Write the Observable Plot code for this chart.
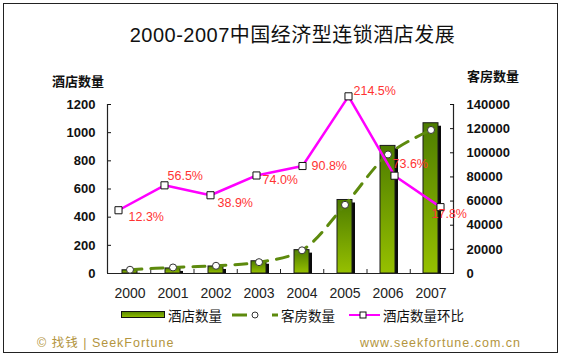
<!DOCTYPE html>
<html><head><meta charset="utf-8">
<script src="https://cdn.jsdelivr.net/npm/d3@7"></script>
<script src="https://cdn.jsdelivr.net/npm/@observablehq/plot@0.6"></script>
<style>
body{margin:0;background:#fff;}
#chart{position:relative;width:561px;height:356px;background:#fff;overflow:hidden;
  font-family:"Liberation Sans",Arial,"Noto Sans CJK SC",sans-serif;}
#chart svg{position:absolute;left:0;top:0;}
.t{position:absolute;white-space:nowrap;line-height:20px;height:20px;}
#border{position:absolute;left:3px;top:3px;width:555px;height:350px;border:1.5px solid #222;box-sizing:border-box;}
#title{left:0;width:585px;text-align:center;top:23px;font-size:20px;letter-spacing:0.5px;line-height:24px;height:24px;color:#111;}
.ax{font-family:"Noto Sans CJK SC",sans-serif;font-size:13px;font-weight:bold;color:#111;}
.lg{font-family:"Noto Sans CJK SC",sans-serif;font-size:13.5px;color:#111;top:305px;}
.ft{font-size:12.5px;color:#b39540;letter-spacing:1px;top:333px;}
#swatch{position:absolute;left:121px;top:311px;width:44px;height:7px;box-sizing:border-box;border:1px solid #111;
  background:linear-gradient(#5a8a00,#8fba00);}
</style></head>
<body><div id="chart"></div>
<script>
const years = ["2000","2001","2002","2003","2004","2005","2006","2007"];
const hotels = [23, 36, 50, 87, 166, 522, 906, 1067];
const rooms = [3100, 5000, 6400, 9400, 19200, 56900, 98600, 118900];
const hotelGrowth = [12.3, 56.5, 38.9, 74.0, 90.8, 214.5, 73.6, 17.8];
const leftTicks = [0, 200, 400, 600, 800, 1000, 1200];
const rightTicks = [0, 20000, 40000, 60000, 80000, 100000, 120000, 140000];
const titleText = "2000-2007中国经济型连锁酒店发展";
const leftTitle = "酒店数量";
const rightTitle = "客房数量";
const legendHotels = "酒店数量";
const legendRooms = "客房数量";
const legendGrowth = "酒店数量环比";
const footLeft = "© 找钱 | SeekFortune";
const footRight = "www.seekfortune.com.cn";

const rows = years.map((year, i) => ({year, hotels: hotels[i], rooms: rooms[i], growth: hotelGrowth[i]}));

// layout
const W = 561, H = 356;
const M = {marginTop: 104, marginBottom: 83, marginLeft: 107, marginRight: 108};
const bandX = {type: "band", domain: years, paddingInner: 0.64, paddingOuter: 0.32, label: null};
const baseStyle = {background: "transparent", overflow: "visible", fontFamily: "Liberation Sans, Arial, sans-serif"};
const labelNudges = [[10, 7], [3, -9], [7, 8], [6, 5], [9, 0], [5, -5], [-2, -12], [-9, 7]];

const defs = () => {
  const d = d3.create("svg:defs");
  const g = d.append("linearGradient").attr("id", "barGrad").attr("x1", 0).attr("y1", 0).attr("x2", 0).attr("y2", 1);
  g.append("stop").attr("offset", "0%").attr("stop-color", "#4d7c00");
  g.append("stop").attr("offset", "100%").attr("stop-color", "#96c000");
  return d.node();
};

const chart = document.getElementById("chart");

// base: bars + left axis + year labels
const base = Plot.plot({
  width: W, height: H, ...M, style: baseStyle,
  x: bandX,
  y: {domain: [0, 1200], label: null},
  marks: [
    defs,
    Plot.barY(rows, {x: "year", y: "hotels", fill: "#0a0a0a", dx: 3, insetTop: 3}),
    Plot.barY(rows, {x: "year", y: "hotels", fill: "url(#barGrad)", stroke: "#1a1a1a", strokeWidth: 1}),
    Plot.axisY(leftTicks, {anchor: "left", tickSize: -4, tickPadding: 16, tickFormat: d3.format("d"),
      fontSize: 13, fontWeight: "bold", color: "#111"}),
    Plot.axisX(years, {anchor: "bottom", tickSize: 0, tickPadding: 15, fontSize: 14, color: "#222"})
  ]
});
chart.appendChild(base);

// frame: axis lines and x boundary ticks
const frame = Plot.plot({
  width: W, height: H, ...M, style: baseStyle,
  x: {domain: [0, years.length], axis: null},
  y: {domain: [0, 1], axis: null},
  marks: [
    Plot.axisX(d3.range(1, years.length), {anchor: "bottom", tickSize: -4, tickFormat: () => "", color: "#222"}),
    Plot.ruleX([0, years.length], {stroke: "#222", strokeWidth: 1.2}),
    Plot.ruleY([0], {stroke: "#222", strokeWidth: 1.2})
  ]
});
chart.appendChild(frame);

// rooms: dashed curve + circles + right axis
const roomsPlot = Plot.plot({
  width: W, height: H, ...M, style: baseStyle,
  x: {...bandX, axis: null},
  y: {domain: [0, 140000], label: null},
  marks: [
    Plot.line(rows, {x: "year", y: "rooms", stroke: "#5d8a0d", strokeWidth: 3, strokeDasharray: "12,9", curve: "catmull-rom"}),
    Plot.dot(rows, {x: "year", y: "rooms", r: 3.5, fill: "white", stroke: "#333", strokeWidth: 1}),
    Plot.axisY(rightTicks, {anchor: "right", tickSize: -4, tickPadding: 17, tickFormat: d3.format("d"),
      fontSize: 13, fontWeight: "bold", color: "#111"})
  ]
});
chart.appendChild(roomsPlot);

// growth: magenta line with its own category positions
const growthPlot = Plot.plot({
  width: W, height: H, marginTop: 104, marginBottom: 83, marginLeft: 118, marginRight: 121, style: baseStyle,
  x: {type: "point", domain: years, padding: 0, axis: null},
  y: {domain: [-100, 200], axis: null},
  marks: [
    Plot.line(rows, {x: "year", y: "growth", stroke: "#ff00ff", strokeWidth: 2.5}),
    Plot.dot(rows, {x: "year", y: "growth", symbol: "square", r: 4, fill: "white", stroke: "#111", strokeWidth: 1}),
    ...rows.map((r, i) => Plot.text([r], {x: "year", y: "growth", text: d => d.growth.toFixed(1) + "%",
      dx: labelNudges[i][0], dy: labelNudges[i][1], textAnchor: "start", fill: "#ff3333", fontSize: 12.5}))
  ]
});
chart.appendChild(growthPlot);

// html texts
function addText(cls, text, css) {
  const d = document.createElement("div");
  d.className = "t " + cls;
  d.textContent = text;
  Object.assign(d.style, css);
  chart.appendChild(d);
  return d;
}
const border = document.createElement("div"); border.id = "border"; chart.appendChild(border);
addText("", titleText, {}).id = "title";
addText("ax", leftTitle, {left: "52px", top: "71px"});
addText("ax", rightTitle, {left: "467px", top: "66px"});

// legend
const sw = document.createElement("div"); sw.id = "swatch"; chart.appendChild(sw);
addText("lg", legendHotels, {left: "168px"});
const lg1 = d3.create("svg").attr("width", 52).attr("height", 12).style("left", "230px").style("top", "309px");
lg1.append("line").attr("x1", 2).attr("x2", 17).attr("y1", 6).attr("y2", 6).attr("stroke", "#5d8a0d").attr("stroke-width", 3);
lg1.append("circle").attr("cx", 25).attr("cy", 6).attr("r", 3).attr("fill", "white").attr("stroke", "#333");
lg1.append("line").attr("x1", 42).attr("x2", 48).attr("y1", 6).attr("y2", 6).attr("stroke", "#5d8a0d").attr("stroke-width", 3);
chart.appendChild(lg1.node());
addText("lg", legendRooms, {left: "281px"});
const lg2 = d3.create("svg").attr("width", 36).attr("height", 12).style("left", "347px").style("top", "309px");
lg2.append("line").attr("x1", 2).attr("x2", 33).attr("y1", 6).attr("y2", 6).attr("stroke", "#ff00ff").attr("stroke-width", 2);
lg2.append("rect").attr("x", 13).attr("y", 3).attr("width", 6).attr("height", 6).attr("fill", "white").attr("stroke", "#111");
chart.appendChild(lg2.node());
addText("lg", legendGrowth, {left: "383px"});

// footer
addText("ft", footLeft, {left: "37px"});
addText("ft", footRight, {right: "40px"});
</script>
</body></html>
